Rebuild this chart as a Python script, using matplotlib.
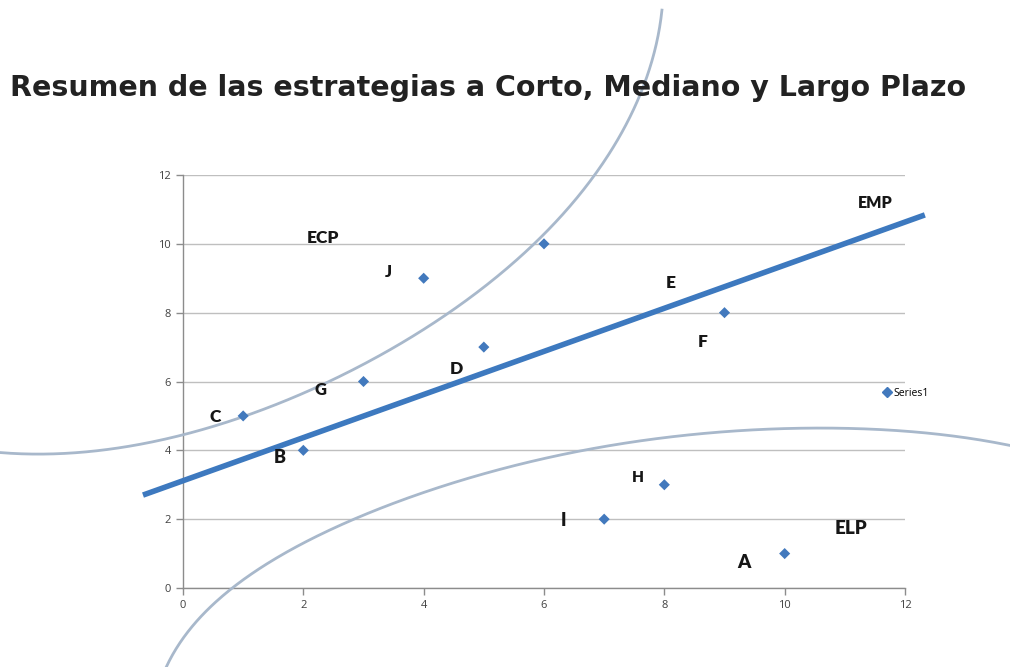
import numpy as np
import matplotlib
matplotlib.use("Agg")
import matplotlib.pyplot as plt
from matplotlib.lines import Line2D

# ---- data ----
x_vals = [10, 2, 1, 5, 6, 9, 3, 8, 7, 4]
y_vals = [1, 4, 5, 7, 10, 8, 6, 3, 2, 9]
xticks = [0, 2, 4, 6, 8, 10, 12]
yticks = [0, 2, 4, 6, 8, 10, 12]

# annotation labels (text, x, y, size)
lab_text = ["ECP", "J", "E", "F", "D", "G", "C", "B", "H", "I", "ELP", "A", "EMP"]
lab_x = [2.33, 3.41, 8.11, 8.63, 4.54, 2.28, 0.53, 1.61, 7.56, 6.33, 11.10, 9.32, 11.50]
lab_y = [10.17, 9.18, 8.86, 7.15, 6.36, 5.75, 4.97, 3.78, 3.20, 1.95, 1.74, 0.73, 11.19]
lab_size = [12.5, 11.5, 12.5, 12.5, 12.5, 12, 12.5, 13, 11, 13, 13.5, 13.5, 11.5]

# hand-drawn freeform shapes (data coords)
emp_x = [-0.665, 12.33]
emp_y = [2.70, 10.84]
ecp_x = [-3.04, -2.49, -1.93, -1.38, -0.55, 0.00, 0.95, 1.94, 2.49, 3.61, 4.44, 5.85,
         6.38, 6.85, 7.26, 7.60, 7.76, 7.88, 7.96]
ecp_y = [3.95, 3.86, 3.92, 4.01, 4.24, 4.45, 4.94, 5.61, 6.04, 7.12, 8.02, 10.02,
         10.98, 12.00, 13.22, 14.26, 15.14, 15.92, 16.79]
elp_x = [-0.27, 0.00, 0.83, 1.94, 2.89, 3.89, 4.44, 5.93, 6.65, 8.14, 9.92, 10.75,
         11.87, 12.96, 13.74]
elp_y = [-2.30, -1.42, 0.00, 1.25, 2.03, 2.70, 3.05, 3.72, 4.01, 4.39, 4.62, 4.65,
         4.59, 4.36, 4.15]

SX, SY = 60.17, 34.42  # display px per data unit (for smoothing only)


def smooth(xs, ys, deg=6, n=400):
    xs = np.asarray(xs, float)
    ys = np.asarray(ys, float)
    d = np.hypot(np.diff(xs) * SX, np.diff(ys) * SY)
    t = np.concatenate([[0], np.cumsum(d)])
    t = t / t[-1]
    px = np.polyfit(t, xs, deg)
    py = np.polyfit(t, ys, deg)
    tt = np.linspace(0, 1, n)
    return np.polyval(px, tt), np.polyval(py, tt)


fig = plt.figure(figsize=(10.10, 6.67), dpi=100)
ax = fig.add_axes([183 / 1010, 1 - 588 / 667, (905 - 183) / 1010, (588 - 175) / 667])

ax.set_xlim(0, 12)
ax.set_ylim(0, 12)
ax.set_xticks(xticks)
ax.set_yticks(yticks)
ax.grid(axis="y", color="#bfbfbf", linewidth=1)
ax.set_axisbelow(True)
for s in ["top", "right"]:
    ax.spines[s].set_visible(False)
for s in ["left", "bottom"]:
    ax.spines[s].set_color("#8c8c8c")
    ax.spines[s].set_linewidth(1)
ax.tick_params(axis="both", colors="#8c8c8c", labelcolor="#404040", labelsize=8,
               length=5, width=1, direction="out")
for t in ax.get_xticklabels() + ax.get_yticklabels():
    t.set_fontfamily("Open Sans")

curve_col = "#a8b8cb"
cx, cy = smooth(ecp_x, ecp_y)
ax.plot(cx, cy, color=curve_col, lw=2, clip_on=False, zorder=3)
cx, cy = smooth(elp_x, elp_y)
ax.plot(cx, cy, color=curve_col, lw=2, clip_on=False, zorder=3)

ax.plot(emp_x, emp_y, color="#3d79bf", lw=4, solid_capstyle="butt", clip_on=False, zorder=4)

ax.scatter(x_vals, y_vals, marker="D", s=32, color="#4279bd", zorder=5, clip_on=False,
           edgecolors="none")

for t, x, y, s in zip(lab_text, lab_x, lab_y, lab_size):
    ax.text(x, y, t, fontsize=s, fontweight="heavy", fontfamily="Lato", color="#161616",
            ha="center", va="center", zorder=6)

# legend
leg_h = [Line2D([], [], marker="D", linestyle="none", color="#4279bd", markersize=5)]
fig.legend(leg_h, ["Series1"], loc="center left", bbox_to_anchor=(873 / 1010, 1 - 393 / 667),
           frameon=False, handlelength=0.8, handletextpad=0.3,
           prop={"family": "Open Sans", "size": 7.5})

fig.text(10 / 1010, 1 - 88 / 667, "Resumen de las estrategias a Corto, Mediano y Largo Plazo",
         fontsize=20.5, fontweight="bold", fontfamily="DejaVu Sans", color="#222222",
         ha="left", va="center", zorder=1)

fig.savefig("out.png", dpi=100)
